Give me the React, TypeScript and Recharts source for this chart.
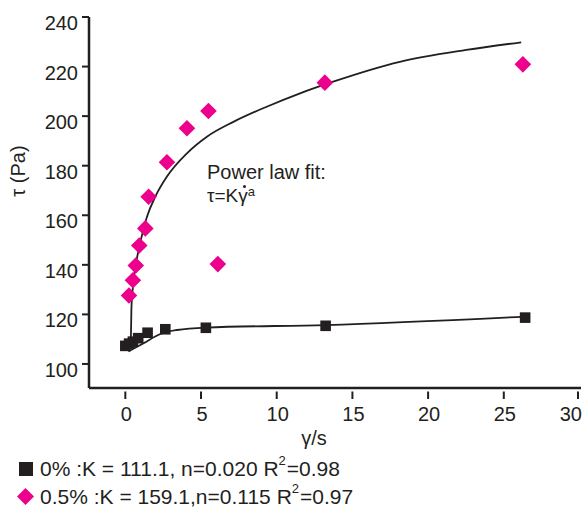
import React from 'react';
import { ComposedChart, XAxis, YAxis, Scatter, Line } from 'recharts';

const INK = '#231f20';
const PINK = '#ec008c';
const FONT = '"Liberation Sans", Arial, Helvetica, sans-serif';

// Axis ticks
const xTicks = [0, 5, 10, 15, 20, 25, 30];
const yTicks = [100, 120, 140, 160, 180, 200, 220, 240];

// 0% sample (black squares)
const gamma0 = [0.0, 0.25, 0.5, 0.85, 1.47, 2.64, 5.32, 13.23, 26.41];
const tau0 = [107.3, 108.2, 109.0, 110.4, 112.6, 114.0, 114.6, 115.4, 118.7];

// 0.5% sample (pink diamonds)
const gamma05 = [0.24, 0.5, 0.69, 0.92, 1.32, 1.54, 2.75, 4.07, 5.49, 6.11, 13.18, 26.26];
const tau05 = [127.6, 133.8, 139.7, 147.8, 154.7, 167.5, 181.4, 195.1, 202.1, 140.3, 213.5, 220.9];

// Power-law fit curves
const fitGamma0 = [0.2, 1.21, 2.31, 3.41, 5.34, 13.23, 26.43];
const fitTau0 = [105.0, 108.4, 112.1, 113.7, 114.7, 115.7, 119.1];

const fitGamma05 = [0.36, 0.4, 0.5, 0.62, 0.9, 1.43, 1.98, 2.75, 4.07, 5.39, 7.14, 9.34, 11.54, 13.73, 18.13, 22.52, 26.15];
const fitTau05 = [107.3, 122.0, 131.0, 137.5, 146.5, 159.4, 167.5, 175.6, 185.0, 191.7, 197.7, 203.8, 209.2, 213.9, 221.9, 226.7, 229.8];

const zip = (xs: number[], ys: number[]) => xs.map((x, i) => ({ x, y: ys[i] }));

const pts0 = zip(gamma0, tau0);
const pts05 = zip(gamma05, tau05);
const fit0 = zip(fitGamma0, fitTau0);
const fit05 = zip(fitGamma05, fitTau05);

const Square = (props: any) => {
  const { cx, cy } = props;
  if (cx == null || cy == null) return null;
  return <rect x={cx - 5.3} y={cy - 5.3} width={10.6} height={10.6} fill={INK} />;
};

const Diamond = (props: any) => {
  const { cx, cy } = props;
  if (cx == null || cy == null) return null;
  const r = 8.3;
  return (
    <polygon
      points={`${cx},${cy - r} ${cx + r},${cy} ${cx},${cy + r} ${cx - r},${cy}`}
      fill={PINK}
    />
  );
};

const XTick = (props: any) => {
  const { x, y, payload } = props;
  const last = payload.value === xTicks[xTicks.length - 1];
  return (
    <g>
      <line x1={x} x2={x} y1={y + 3.5} y2={y + 11} stroke={INK} strokeWidth={2} />
      <text
        x={last ? x + 4 : x + 1}
        y={y + 33}
        textAnchor={last ? 'end' : 'middle'}
        fontSize={20}
        fill={INK}
        fontFamily={FONT}
      >
        {payload.value}
      </text>
    </g>
  );
};

const YTick = (props: any) => {
  const { x, y, payload } = props;
  return (
    <text x={x} y={y + 6} dy="0.355em" textAnchor="end" fontSize={20} fill={INK} fontFamily={FONT}>
      {payload.value}
    </text>
  );
};

const textStyle: React.CSSProperties = {
  position: 'absolute',
  fontFamily: FONT,
  color: INK,
  whiteSpace: 'nowrap',
  lineHeight: 1,
};

export default function App() {
  return (
    <div style={{ position: 'absolute', left: 0, top: 0, width: 586, height: 508, background: '#fff' }}>
      <ComposedChart
        width={586}
        height={508}
        margin={{ top: 17, right: 5, left: 0, bottom: 90 }}
      >
        <XAxis
          type="number"
          dataKey="x"
          domain={[-2.4, 30.1]}
          allowDataOverflow
          ticks={xTicks}
          tickSize={0}
          tickMargin={0}
          tickLine={false}
          tick={<XTick />}
          height={30}
          axisLine={{ stroke: INK, strokeWidth: 2.5 }}
        />
        <YAxis
          type="number"
          dataKey="y"
          domain={[90.3, 240]}
          allowDataOverflow
          ticks={yTicks}
          width={89}
          tickSize={7}
          tickMargin={4}
          tickLine={{ stroke: INK, strokeWidth: 2 }}
          tick={<YTick />}
          axisLine={{ stroke: INK, strokeWidth: 2.5 }}
        />
        <Scatter data={pts0} dataKey="y" shape={<Square />} isAnimationActive={false} />
        <Scatter data={pts05} dataKey="y" shape={<Diamond />} isAnimationActive={false} />
        <Line
          data={fit0}
          dataKey="y"
          type="monotone"
          dot={false}
          activeDot={false}
          stroke={INK}
          strokeWidth={1.8}
          isAnimationActive={false}
        />
        <Line
          data={fit05}
          dataKey="y"
          type="monotone"
          dot={false}
          activeDot={false}
          stroke={INK}
          strokeWidth={1.8}
          isAnimationActive={false}
        />
      </ComposedChart>

      {/* Y axis title */}
      <div
        style={{
          ...textStyle,
          fontSize: 20,
          left: 18,
          top: 171,
          transform: 'translate(-50%, -50%) rotate(-90deg)',
        }}
      >
        τ (Pa)
      </div>

      {/* X axis title */}
      <div style={{ ...textStyle, fontSize: 20, left: 314, top: 438, transform: 'translate(-50%, -50%)' }}>
        γ/s
      </div>

      {/* Annotation */}
      <div style={{ ...textStyle, fontSize: 20, left: 207, top: 162.4 }}>Power law fit:</div>
      <div style={{ ...textStyle, fontSize: 19, left: 207, top: 186 }}>
        τ=K
        <span style={{ position: 'relative', display: 'inline-block' }}>
          γ
          <span
            style={{
              position: 'absolute',
              left: 4.5,
              top: -1,
              width: 3,
              height: 3,
              borderRadius: '50%',
              background: INK,
            }}
          />
        </span>
        <span style={{ fontSize: 13, position: 'relative', top: -6 }}>a</span>
      </div>

      {/* Legend */}
      <div style={{ ...textStyle, fontSize: 21, left: 19, top: 458, display: 'flex', alignItems: 'center' }}>
        <span style={{ display: 'inline-block', width: 14, height: 14, background: INK, marginRight: 7 }} />
        <span>
          0% :K = 111.1, n=0.020 R
          <span style={{ fontSize: 13, position: 'relative', top: -11, marginLeft: 0, marginRight: 1 }}>2</span>
          =0.98
        </span>
      </div>
      <div style={{ ...textStyle, fontSize: 21, left: 17, top: 486, display: 'flex', alignItems: 'center' }}>
        <svg width={17} height={17} style={{ marginRight: 6 }}>
          <polygon points="8.5,0 17,8.5 8.5,17 0,8.5" fill={PINK} />
        </svg>
        <span>
          0.5% :K = 159.1,n=0.115 R
          <span style={{ fontSize: 13, position: 'relative', top: -11, marginLeft: 0, marginRight: 1 }}>2</span>
          =0.97
        </span>
      </div>
    </div>
  );
}
